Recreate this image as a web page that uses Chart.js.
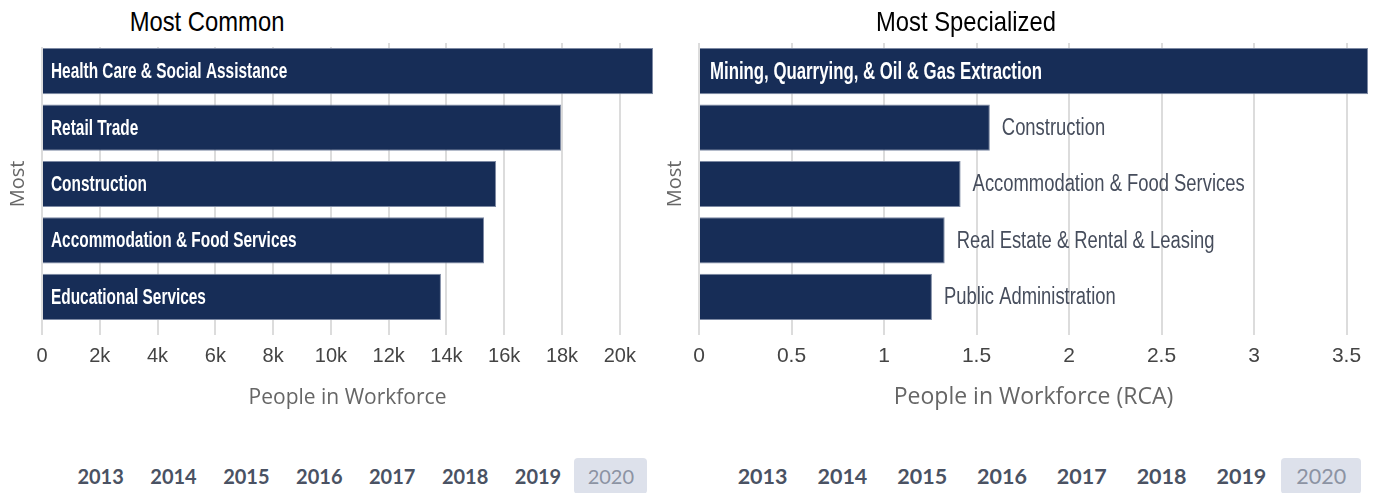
<!DOCTYPE html>
<html>
<head>
<meta charset="utf-8">
<title>Industries - Most Common / Most Specialized</title>
<script src="https://cdn.jsdelivr.net/npm/chart.js@4.4.0/dist/chart.umd.min.js"></script>
<style>
    html, body {
        margin: 0;
        padding: 0;
        background: #fff;
        width: 1381px;
        height: 493px;
        overflow: hidden;
    }
    .chart-box {
        position: absolute;
        top: 0;
    }
    .panel-title {
        position: absolute;
        top: 6px;
        font-family: 'Liberation Sans', Arial, sans-serif;
        font-size: 28px;
        line-height: 32px;
        color: #000;
        white-space: nowrap;
        transform: translateX(-50%) scaleX(0.85);
        z-index: 3;
    }
    .mask {
        position: absolute;
        left: 0;
        top: 0;
        width: 388px;
        height: 47px;
        background: #fff;
        z-index: 2;
    }
    .year {
        position: absolute;
        top: 458px;
        height: 36px;
        line-height: 36px;
        text-align: center;
        font-family: Lato, 'Open Sans', sans-serif;
        font-weight: 700;
        color: #4a5263;
        border-radius: 4px;
    }
    .year.active {
        background: #dde1eb;
        color: #8c93a3;
        font-weight: 400;
    }
</style>
</head>
<body>

<div class="mask"></div>
<div class="panel-title" style="left:207px;">Most Common</div>
<div class="panel-title" style="left:966px;">Most Specialized</div>

<div class="chart-box" style="left:0;"><canvas id="chart-common" width="672" height="420"></canvas></div>
<div class="chart-box" style="left:657px;"><canvas id="chart-special" width="724" height="420"></canvas></div>

<div id="years-common"></div>
<div id="years-special"></div>

<script>
// ============================================================
// DATA
// ============================================================
const commonLabels = [
    'Health Care & Social Assistance',
    'Retail Trade',
    'Construction',
    'Accommodation & Food Services',
    'Educational Services'
];
const commonValues = [21150, 17970, 15720, 15300, 13810];
const commonTicks = [0, 2000, 4000, 6000, 8000, 10000, 12000, 14000, 16000, 18000, 20000];

const specialLabels = [
    'Mining, Quarrying, & Oil & Gas Extraction',
    'Construction',
    'Accommodation & Food Services',
    'Real Estate & Rental & Leasing',
    'Public Administration'
];
const specialValues = [3.616, 1.572, 1.414, 1.328, 1.259];
const specialTicks = [0, 0.5, 1, 1.5, 2, 2.5, 3, 3.5];

const years = ['2013', '2014', '2015', '2016', '2017', '2018', '2019', '2020'];
const activeYear = '2020';

const BAR_COLOR = '#172d57';

// ============================================================
// BAR LABEL PLUGIN (inside the bar when long enough, else after it)
// ============================================================
const barLabelPlugin = {
    id: 'barLabels',
    afterDatasetsDraw(chart, args, opts) {
        const ctx = chart.ctx;
        const meta = chart.getDatasetMeta(0);
        const values = chart.data.datasets[0].data;
        const maxVal = Math.max(...values);

        ctx.save();
        ctx.textBaseline = 'middle';
        ctx.textAlign = 'left';

        meta.data.forEach((bar, i) => {
            const inside = values[i] / maxVal > 0.5;
            const x = inside ? bar.base + opts.padIn : bar.x + opts.padOut;
            ctx.font = (inside ? 'bold ' : '') + opts.size + 'px "Liberation Sans", Arial, sans-serif';
            ctx.fillStyle = inside ? '#ffffff' : opts.outColor;
            ctx.save();
            ctx.translate(x, bar.y + opts.shiftY);
            ctx.scale(inside ? opts.squeeze : opts.squeezeOut, 1);
            ctx.fillText(chart.data.labels[i], 0, 0);
            ctx.restore();
        });
        ctx.restore();
    }
};

// ============================================================
// CHART BUILDER
// ============================================================
function makeBarChart(canvasId, labels, values, tickValues, cfg) {
    const ctx = document.getElementById(canvasId);
    if (!ctx) return;

    const maxVal = Math.max(...values);

    new Chart(ctx, {
        type: 'bar',
        data: {
            labels: labels,
            datasets: [{
                data: values,
                backgroundColor: BAR_COLOR,
                borderColor: '#7d89a3',
                borderWidth: 1,
                barPercentage: 0.82,
                categoryPercentage: 1
            }]
        },
        options: {
            indexAxis: 'y',
            responsive: false,
            animation: false,
            devicePixelRatio: 1,
            layout: {
                padding: { top: 43, right: cfg.padRight, bottom: 0, left: 0 }
            },
            plugins: {
                legend: { display: false },
                tooltip: { enabled: false },
                barLabels: {
                    size: cfg.labelSize,
                    squeeze: cfg.squeeze,
                    squeezeOut: cfg.squeezeOut,
                    padIn: cfg.padIn,
                    padOut: 12,
                    shiftY: 1,
                    outColor: '#464d5c'
                }
            },
            scales: {
                x: {
                    min: 0,
                    max: maxVal,
                    // fixed tick positions, the axis itself ends at the largest bar
                    afterBuildTicks: function(scale) {
                        scale.ticks = tickValues.map(v => ({ value: v }));
                    },
                    afterFit: function(scale) {
                        scale.height = 95;
                    },
                    grid: {
                        color: '#dcdcdc',
                        lineWidth: 2,
                        drawTicks: true,
                        tickLength: 10
                    },
                    border: { display: false },
                    ticks: {
                        padding: 9,
                        maxRotation: 0,
                        autoSkip: false,
                        color: '#444',
                        font: { family: '"Liberation Sans", Arial, sans-serif', size: cfg.tickSize },
                        callback: cfg.format
                    },
                    title: {
                        display: true,
                        text: cfg.xTitle,
                        color: '#666',
                        font: { family: '"Open Sans", sans-serif', size: cfg.titleSize },
                        padding: { top: 0, bottom: cfg.titlePad }
                    }
                },
                y: {
                    afterFit: function(scale) {
                        scale.width = 42;
                    },
                    grid: { display: false },
                    border: { display: false },
                    ticks: { display: false },
                    title: {
                        display: true,
                        text: 'Most',
                        color: '#666',
                        font: { family: '"Open Sans", sans-serif', size: 20 },
                        padding: { top: 6, bottom: 0 }
                    }
                }
            }
        },
        plugins: [barLabelPlugin]
    });
}

// ============================================================
// YEAR SELECTOR ROW
// ============================================================
function buildYears(containerId, firstCenter, spacing, fontSize) {
    const box = document.getElementById(containerId);
    years.forEach((y, i) => {
        const el = document.createElement('div');
        el.className = 'year' + (y === activeYear ? ' active' : '');
        el.textContent = y;
        el.style.left = (firstCenter + i * spacing - spacing / 2) + 'px';
        el.style.width = spacing + 'px';
        el.style.fontSize = fontSize + 'px';
        box.appendChild(el);
    });
}

document.addEventListener('DOMContentLoaded', function() {
    makeBarChart('chart-common', commonLabels, commonValues, commonTicks, {
        padRight: 19,
        labelSize: 22,
        squeeze: 0.70,
        squeezeOut: 0.75,
        padIn: 8,
        tickSize: 20,
        titleSize: 21,
        titlePad: 9,
        xTitle: 'People in Workforce',
        format: v => v === 0 ? '0' : (v / 1000) + 'k'
    });

    makeBarChart('chart-special', specialLabels, specialValues, specialTicks, {
        padRight: 13,
        labelSize: 23,
        squeeze: 0.73,
        squeezeOut: 0.80,
        padIn: 10,
        tickSize: 21,
        titleSize: 23,
        titlePad: 9,
        xTitle: 'People in Workforce (RCA)',
        format: v => String(v)
    });

    buildYears('years-common', 100.6, 72.9, 20);
    buildYears('years-special', 762.6, 79.8, 21.5);
});
</script>
</body>
</html>
